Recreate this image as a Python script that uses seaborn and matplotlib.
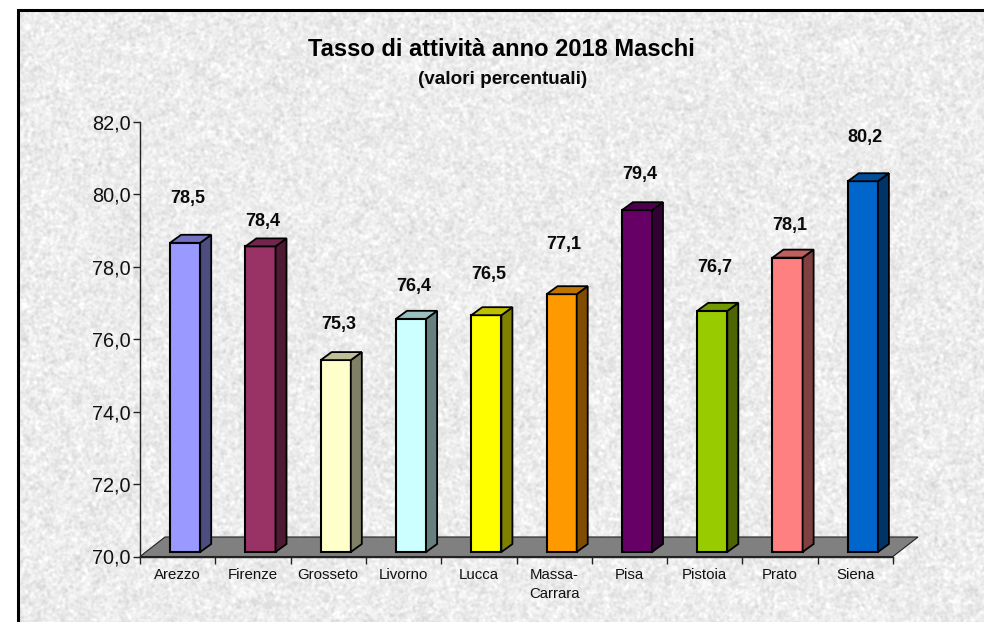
import numpy as np
import pandas as pd
import matplotlib
matplotlib.use("Agg")
import matplotlib.pyplot as plt
import seaborn as sns
from matplotlib.colors import to_rgb
from matplotlib.patches import Polygon, Rectangle
from matplotlib.transforms import Affine2D, IdentityTransform

# Data
province = ["Arezzo", "Firenze", "Grosseto", "Livorno", "Lucca",
            "Massa-\nCarrara", "Pisa", "Pistoia", "Prato", "Siena"]
tasso = [78.54, 78.44, 75.3, 76.44, 76.54, 77.12, 79.44, 76.66, 78.13, 80.24]
colori = ["#9999FF", "#993366", "#FFFFCC", "#CCFFFF", "#FFFF00",
          "#FF9900", "#660066", "#99CC00", "#FF8080", "#0066CC"]
y_ticks = [70, 72, 74, 76, 78, 80, 82]
# distance of each value label above its bar top, in pixels
label_gap = [36, 17, 28, 24, 33, 42, 28, 35, 24, 36]

W, H = 984, 622
sns.set_theme(style="white")
plt.rcParams["font.family"] = ["Liberation Sans", "DejaVu Sans"]

fig = plt.figure(figsize=(W / 100, H / 100), dpi=100, facecolor="white")

# Grey paper background, mottled
bg = fig.add_axes([0, 0, 1, 1], zorder=0)
bg.axis("off")
rng = np.random.default_rng(7)
fy = np.fft.fftfreq(H)[:, None]
fx = np.fft.fftfreq(W)[None, :]


def blotch(sigma):
    noise = rng.normal(size=(H, W))
    soft = np.fft.ifft2(np.fft.fft2(noise) * np.exp(-(fx ** 2 + fy ** 2) * 2 * (np.pi * sigma) ** 2)).real
    return soft / soft.std()


texture = np.clip(0.925 + 0.026 * blotch(1.1) + 0.006 * blotch(4), 0, 1)
bg.imshow(texture, cmap="gray", vmin=0, vmax=1, aspect="auto", extent=(0, W, 0, H))
bg.set_xlim(0, W)
bg.set_ylim(0, H)
# white margin and black frame
bg.add_patch(Rectangle((0, H - 9), W, 9, fc="white", ec="none", zorder=2))
bg.add_patch(Rectangle((0, 0), 17, H, fc="white", ec="none", zorder=2))
bg.plot([18, 18, W + 5], [-5, H - 10, H - 10], color="black", lw=2.2, zorder=3,
        solid_joinstyle="miter")

# Plot area in pixels
left, right, top, bottom = 140, 893, 122, 556.5
ax = fig.add_axes([left / W, 1 - bottom / H, (right - left) / W, (bottom - top) / H], zorder=1)
ax.patch.set_alpha(0)

df = pd.DataFrame({"provincia": province, "tasso": tasso})
sns.barplot(data=df, x="provincia", y="tasso", hue="provincia", palette=colori,
            width=0.4, legend=False, saturation=1, edgecolor="black", linewidth=1.5,
            zorder=4, ax=ax)

ax.set_xlim(-0.5, 9.5)
ax.set_ylim(70, 82)
ax.set_xlabel("")
ax.set_ylabel("")

# Pseudo 3D: bars sit in the middle of the floor depth
shift_x, shift_y = 7.5, 4.5
depth_x, depth_y = 11, 8
offset = ax.transData + Affine2D().translate(shift_x, shift_y)
fig.canvas.draw()


def shade(colore, f):
    return tuple(c * f for c in to_rgb(colore))


for patch, v, colore, gap in zip(ax.patches, tasso, colori, label_gap):
    patch.set_y(70)
    patch.set_height(v - 70)
    patch.set_transform(offset)
    patch.set_clip_on(False)
    x0, y0 = offset.transform((patch.get_x(), 70))
    x1, y1 = offset.transform((patch.get_x() + patch.get_width(), v))
    side = [(x1, y0), (x1 + depth_x, y0 + depth_y), (x1 + depth_x, y1 + depth_y), (x1, y1)]
    roof = [(x0, y1), (x1, y1), (x1 + depth_x, y1 + depth_y), (x0 + depth_x, y1 + depth_y)]
    for pts, f in ((side, 0.5), (roof, 0.75)):
        fig.add_artist(Polygon(pts, closed=True, fc=shade(colore, f), ec="black", lw=1.3,
                               transform=IdentityTransform(), zorder=5))
    ax.annotate(f"{v:.1f}".replace(".", ","), xy=((x0 + x1) / 2 + depth_x / 2 - 3, y1 + depth_y),
                xycoords="figure pixels", xytext=(0, gap), textcoords="offset pixels",
                ha="center", va="center", fontsize=13, fontweight="bold", color="#0a0a0a",
                annotation_clip=False, zorder=6)

# Floor
bx0, by0 = ax.transAxes.transform((0, 0))
bx1, _ = ax.transAxes.transform((1, 0))
floor = Polygon([(bx0, by0), (bx1, by0), (bx1 + 25, by0 + 19.5), (bx0 + 25, by0 + 19.5)],
                closed=True, fc="#808080", ec="#222222", lw=0.8, transform=IdentityTransform(),
                zorder=0.5)
fig.add_artist(floor)

# Axes
sns.despine(ax=ax, top=True, right=True)
for s in ("left", "bottom"):
    ax.spines[s].set_color("#222222")
    ax.spines[s].set_linewidth(1)
    ax.spines[s].set_zorder(7)
ax.set_yticks(y_ticks)
ax.set_yticklabels([f"{t:.1f}".replace(".", ",") for t in y_ticks], fontsize=14.3, color="#111111")
ax.set_xticks(np.arange(-0.5, 10, 1))
ax.set_xticklabels([])
ax.set_xticks(np.arange(10), labels=province, minor=True)
ax.tick_params(axis="y", left=True, length=5, width=1, color="#222222", pad=2)
ax.tick_params(axis="x", which="major", bottom=True, length=5, width=1, color="#222222")
ax.tick_params(axis="x", which="minor", bottom=False, length=0, pad=8.6, labelsize=10.8, labelcolor="#111111")
for lab in ax.get_xticklabels(minor=True):
    lab.set_linespacing(1.4)

# Titles
fig.text(501 / W, 1 - 50 / H, "Tasso di attività anno 2018 Maschi", ha="center", va="center",
         fontsize=17, fontweight="bold", color="black")
fig.text(503 / W, 1 - 79 / H, "(valori percentuali)", ha="center", va="center",
         fontsize=13.6, fontweight="bold", color="#0a0a0a")

fig.savefig("out.png", dpi=100)
